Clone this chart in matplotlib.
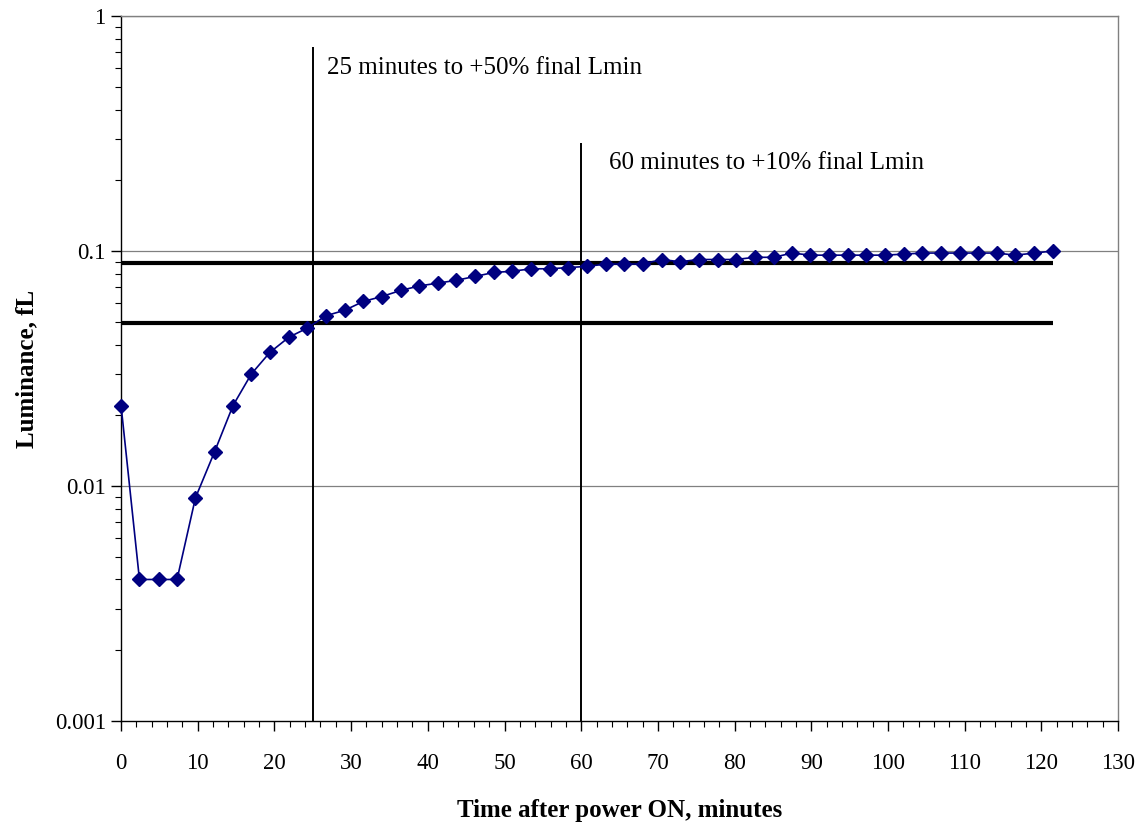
import matplotlib
matplotlib.use("Agg")
import matplotlib.pyplot as plt
from matplotlib.ticker import FixedLocator, MultipleLocator, LogLocator, NullFormatter

# ----- Data -----
time_min = [0.0, 2.4, 4.9, 7.3, 9.7, 12.2, 14.6, 17.0, 19.4, 21.9,
            24.3, 26.7, 29.2, 31.6, 34.0, 36.5, 38.9, 41.3, 43.7, 46.2,
            48.6, 51.0, 53.5, 55.9, 58.3, 60.8, 63.2, 65.6, 68.0, 70.5,
            72.9, 75.3, 77.8, 80.2, 82.6, 85.1, 87.5, 89.9, 92.3, 94.8,
            97.2, 99.6, 102.1, 104.5, 106.9, 109.4, 111.8, 114.2, 116.6, 119.1,
            121.5]
luminance = [0.022, 0.004, 0.004, 0.004, 0.0089, 0.014, 0.022, 0.030, 0.037, 0.043,
             0.047, 0.053, 0.056, 0.061, 0.064, 0.068, 0.071, 0.073, 0.075, 0.078,
             0.081, 0.082, 0.084, 0.084, 0.085, 0.086, 0.088, 0.088, 0.088, 0.092,
             0.090, 0.092, 0.092, 0.092, 0.094, 0.094, 0.098, 0.096, 0.096, 0.096,
             0.096, 0.096, 0.097, 0.098, 0.098, 0.098, 0.098, 0.098, 0.096, 0.098,
             0.100]

limit_levels = [0.089, 0.0495]          # +10% and +50% final Lmin
limit_span = [0.0, 121.5]
marker_times = [25, 60]
marker_tops = [0.74, 0.288]
notes = ["25 minutes to +50% final Lmin", "60 minutes to +10% final Lmin"]
note_pos = [(26.9, 0.60), (63.6, 0.237)]

# ----- Plot -----
plt.rcParams['font.family'] = ['Liberation Serif', 'DejaVu Serif']

fig = plt.figure(figsize=(11.42, 8.25), dpi=100)
ax = fig.add_axes([0.106, 0.1261, 0.873, 0.8545])

ax.set_yscale('log')
ax.set_xlim(0, 130)
ax.set_ylim(0.001, 1)

# gridlines at decades
for lev in [0.01, 0.1, 1]:
    ax.axhline(lev, color='#808080', lw=0.9, zorder=1)

for lev in limit_levels:
    ax.hlines(lev, limit_span[0], limit_span[1], color='black', lw=3.0, zorder=2)

for t, top in zip(marker_times, marker_tops):
    ax.vlines(t, 0.001, top, color='black', lw=1.4, zorder=2)

ax.plot(time_min, luminance, color='#000080', lw=1.2, marker='D',
        markersize=7, markerfacecolor='#000080', markeredgecolor='#000080',
        zorder=3, clip_on=False)

for txt, (x, y) in zip(notes, note_pos):
    ax.text(x, y, txt, fontsize=18, va='center', ha='left')

# axes styling
ax.spines['top'].set_color('#808080')
ax.spines['right'].set_color('#808080')
ax.spines['left'].set_color('black')
ax.spines['bottom'].set_color('black')
for s in ax.spines.values():
    s.set_linewidth(1.0)

ax.xaxis.set_major_locator(MultipleLocator(10))
ax.xaxis.set_minor_locator(MultipleLocator(2))
ax.yaxis.set_major_locator(FixedLocator([0.001, 0.01, 0.1, 1]))
ax.yaxis.set_minor_locator(LogLocator(base=10, subs=range(2, 10)))
ax.yaxis.set_minor_formatter(NullFormatter())
ax.set_yticklabels(['0.001', '0.01', '0.1', '1'])

ax.tick_params(axis='x', which='major', direction='out', length=7, width=1.0,
               labelsize=16.5, pad=16)
ax.tick_params(axis='x', which='minor', direction='out', length=4, width=0.8)
ax.tick_params(axis='y', which='major', direction='out', length=7, width=1.0,
               labelsize=16.5, pad=4)
ax.tick_params(axis='y', which='minor', direction='out', length=4, width=0.8)

ax.set_xlabel("Time after power ON, minutes", fontsize=18, fontweight='bold', labelpad=18)
ax.set_ylabel("Luminance, fL", fontsize=18, fontweight='bold', labelpad=12)

fig.savefig("out.png", dpi=100)
